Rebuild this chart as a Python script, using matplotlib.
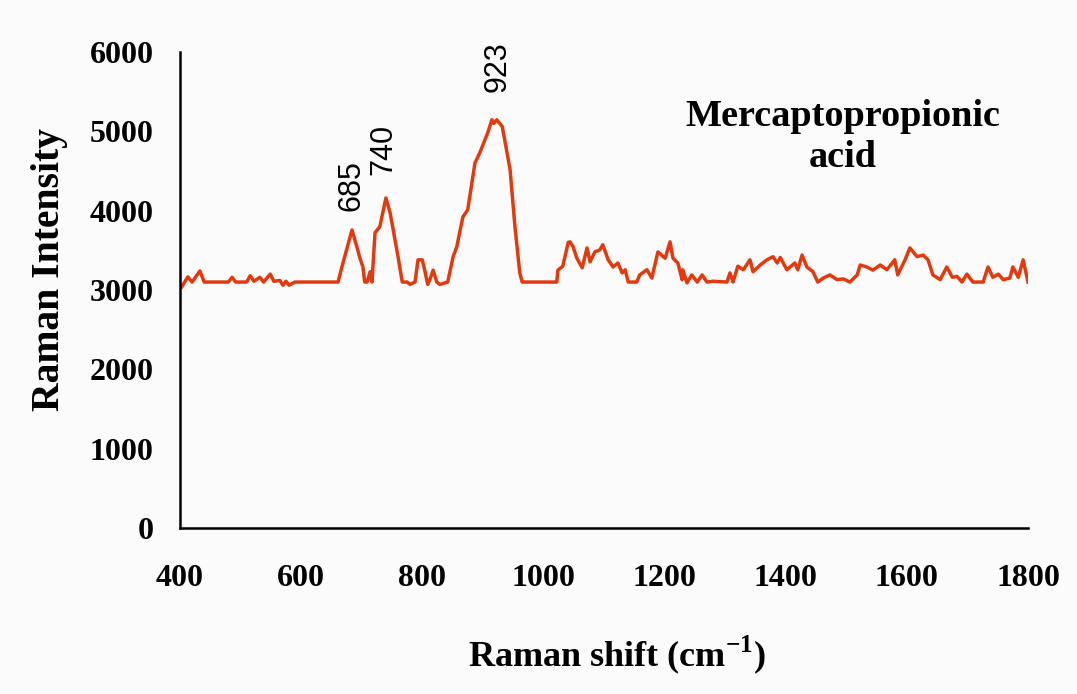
import matplotlib
matplotlib.use("Agg")
import matplotlib.pyplot as plt

plt.rcParams["mathtext.fontset"] = "custom"
plt.rcParams["mathtext.rm"] = "Liberation Serif:bold"
plt.rcParams["mathtext.bf"] = "Liberation Serif:bold"

# Raman spectrum of mercaptopropionic acid
shift = [403, 413, 420, 433, 440, 480, 486, 492, 510, 516, 522, 532, 538, 549, 555,
         565, 570, 575, 580, 590, 661, 667, 684, 692, 697, 702, 705, 709, 714, 717,
         722, 730, 740, 747, 755, 760, 767, 775, 780, 788, 793, 800, 804, 809, 813,
         818, 824, 829, 842, 851, 857, 867, 875, 887, 895, 908, 915, 918, 923, 932,
         937, 945, 953, 961, 965, 1022, 1024, 1032, 1041, 1044, 1049, 1055, 1064, 1072,
         1077, 1085, 1093, 1098, 1107, 1115, 1123, 1130, 1135, 1140, 1154, 1159, 1171,
         1179, 1189, 1201, 1209, 1214, 1222, 1229, 1230, 1237, 1245, 1254, 1262, 1270,
         1280, 1303, 1308, 1313, 1321, 1330, 1341, 1346, 1358, 1369, 1379, 1386, 1391,
         1402, 1415, 1420, 1427, 1435, 1445, 1453, 1462, 1473, 1485, 1495, 1506, 1518,
         1523, 1534, 1544, 1556, 1567, 1580, 1585, 1597, 1605, 1617, 1627, 1635, 1643,
         1655, 1666, 1675, 1683, 1691, 1699, 1709, 1726, 1734, 1742, 1751, 1759, 1770,
         1775, 1784, 1792, 1800]
intensity = [3040, 3165, 3100, 3240, 3100, 3100, 3160, 3100, 3100, 3180, 3110, 3160, 3100, 3200, 3110,
             3120, 3060, 3110, 3060, 3100, 3100, 3280, 3757, 3545, 3405, 3290, 3100, 3100, 3230, 3100,
             3720, 3800, 4160, 3970, 3630, 3420, 3100, 3100, 3070, 3100, 3380, 3380, 3250, 3070, 3140,
             3250, 3100, 3070, 3100, 3420, 3545, 3920, 4010, 4600, 4730, 4980, 5145, 5100, 5145, 5060,
             4855, 4515, 3800, 3215, 3100, 3100, 3250, 3300, 3600, 3607, 3545, 3405, 3280, 3530,
             3355, 3480, 3505, 3570, 3380, 3290, 3340, 3215, 3255, 3100, 3100, 3190, 3255,
             3150, 3480, 3400, 3607, 3400, 3340, 3130, 3255, 3090, 3190, 3100, 3190, 3100,
             3110, 3100, 3215, 3100, 3300, 3255, 3380, 3230, 3315, 3380, 3420, 3340, 3410,
             3255, 3340, 3255, 3440, 3290, 3230, 3100, 3150, 3190, 3130, 3140, 3100, 3190,
             3315, 3290, 3250, 3315, 3255, 3380, 3190, 3380, 3530, 3420, 3440, 3380, 3190,
             3130, 3290, 3160, 3170, 3100, 3200, 3100, 3100, 3290, 3160, 3200, 3130, 3150,
             3290, 3160, 3380, 3100]

peak_labels = ["685", "740", "923"]
peak_x = [684, 735, 925]
peak_y = [4313, 4767, 5813]

x_ticks = [400, 600, 800, 1000, 1200, 1400, 1600, 1800]
y_ticks = [0, 1000, 2000, 3000, 4000, 5000, 6000]

serif = ["Liberation Serif", "DejaVu Serif"]
sans = ["Liberation Sans", "DejaVu Sans"]

fig = plt.figure(figsize=(10.77, 6.94), dpi=100, facecolor="#fbfbfb")
ax = fig.add_axes([0.1671, 0.2392, 0.7874, 0.6859])
ax.set_facecolor("#fbfbfb")

ax.plot(shift, intensity, color="#e23a0e", linewidth=2.5)

ax.set_xlim(400, 1800)
ax.set_ylim(0, 6000)
ax.set_xticks(x_ticks)
ax.set_yticks(y_ticks)
ax.set_xticklabels([str(v) for v in x_ticks], fontfamily=serif, fontweight="bold", fontsize=23)
ax.set_yticklabels([str(v) for v in y_ticks], fontfamily=serif, fontweight="bold", fontsize=23)
ax.tick_params(axis="x", length=0, pad=26)
ax.tick_params(axis="y", length=0, pad=19)

for side in ["top", "right"]:
    ax.spines[side].set_visible(False)
for side in ["left", "bottom"]:
    ax.spines[side].set_linewidth(1.8)
    ax.spines[side].set_color("black")

# peak annotations
for lbl, px, py in zip(peak_labels, peak_x, peak_y):
    ax.text(px, py, lbl, rotation=90, ha="center", va="center",
            fontfamily=sans, fontsize=22)

fig.text(50 / 1077, 1 - 270 / 694, "Raman Intensity", rotation=90, ha="center", va="center",
         fontfamily=serif, fontweight="bold", fontsize=28.5)
fig.text(617 / 1077, 1 - 655 / 694, r"Raman shift (cm$^{-1}$)", ha="center", va="center",
         fontfamily=serif, fontweight="bold", fontsize=26)
fig.text(843 / 1077, 1 - 137 / 694, "Mercaptopropionic\nacid", ha="center", va="center",
         multialignment="center", linespacing=1.25,
         fontfamily=serif, fontweight="bold", fontsize=27.5)

fig.savefig("out.png", dpi=100, facecolor=fig.get_facecolor())
